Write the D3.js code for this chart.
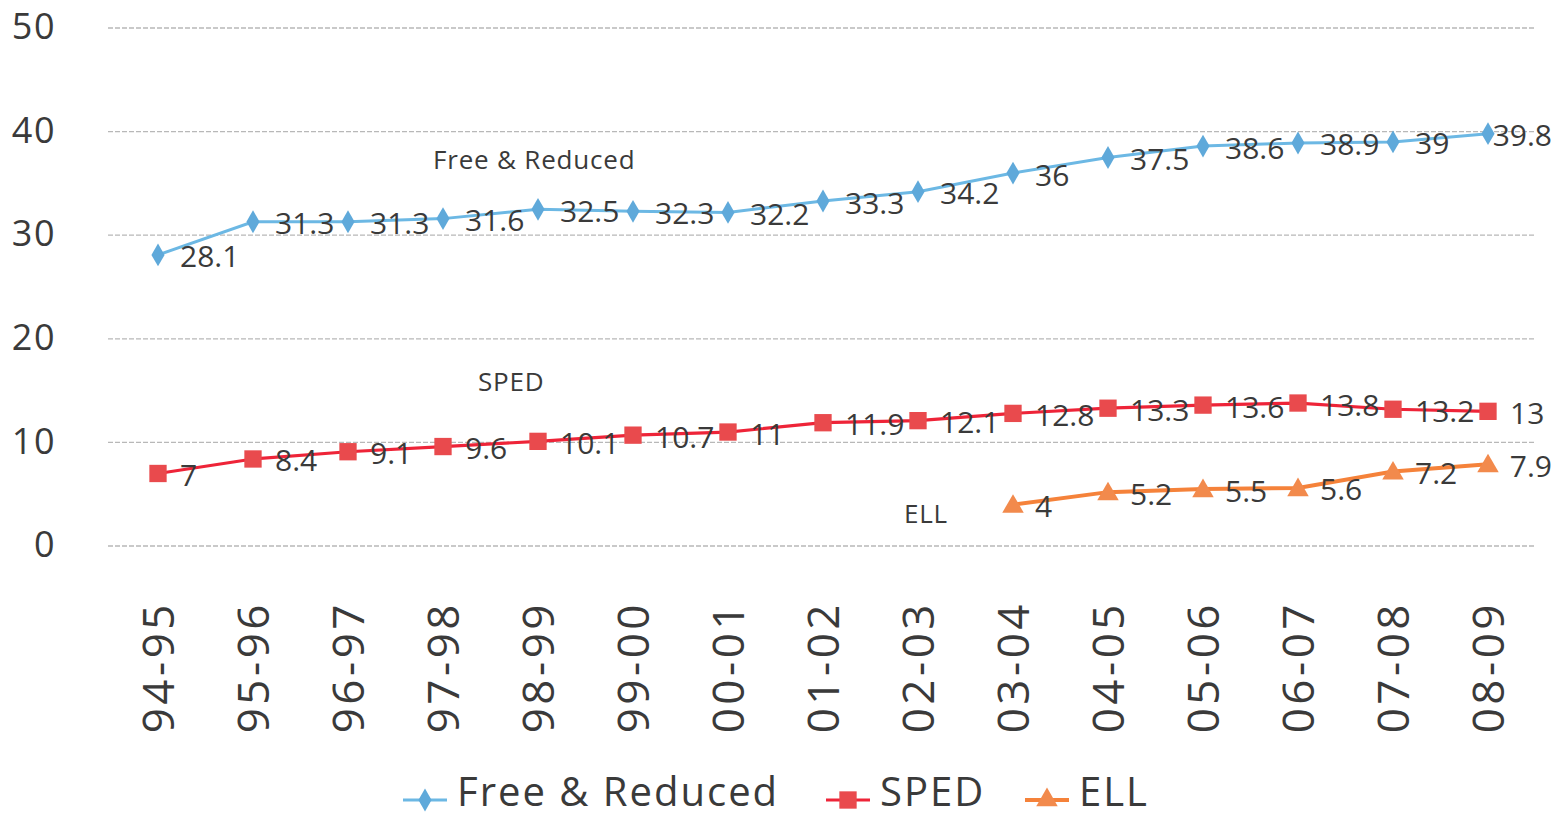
<!DOCTYPE html>
<html><head><meta charset="utf-8">
<script src="https://cdn.jsdelivr.net/npm/d3@7"></script>
<style>html,body{margin:0;padding:0;background:#fff;}svg{display:block;}</style>
</head><body>
<svg id="chart" width="1555" height="819"></svg>
<script>
const categories = ["94-95","95-96","96-97","97-98","98-99","99-00","00-01","01-02","02-03","03-04","04-05","05-06","06-07","07-08","08-09"];
const freeReduced = [28.1,31.3,31.3,31.6,32.5,32.3,32.2,33.3,34.2,36,37.5,38.6,38.9,39,39.8];
const sped = [7,8.4,9.1,9.6,10.1,10.7,11,11.9,12.1,12.8,13.3,13.6,13.8,13.2,13];
const ell = [null,null,null,null,null,null,null,null,null,4,5.2,5.5,5.6,7.2,7.9];
const yTicks = [0,10,20,30,40,50];
const seriesNames = ["Free & Reduced","SPED","ELL"];

const FONT = "'Open Sans', 'Noto Sans', sans-serif";
const TXT = "#3a3a3a";
const svg = d3.select("#chart");

const x = d3.scalePoint().domain(categories).range([158, 1488]);
const y = d3.scaleLinear().domain([0, 50]).range([546, 28]);

// gridlines
svg.append("g").selectAll("line").data(yTicks).join("line")
  .attr("x1", 108).attr("x2", 1535)
  .attr("y1", d => y(d)).attr("y2", d => y(d))
  .attr("stroke", "#b8b8b8").attr("stroke-width", 1.3).attr("stroke-dasharray", "5,2");

// y axis labels
const yAxis = d3.axisLeft(y).tickValues(yTicks).tickSize(0).tickPadding(0);
const gy = svg.append("g").attr("transform", "translate(56,-2)").call(yAxis);
gy.select(".domain").remove();
gy.selectAll("text").attr("font-family", FONT).attr("font-size", 36).attr("fill", TXT)
  .attr("letter-spacing", 1.5).attr("dy", "0.35em");

// x axis labels
const xAxis = d3.axisBottom(x).tickSize(0).tickPadding(0);
const gx = svg.append("g").attr("transform", "translate(0,601)").call(xAxis);
gx.select(".domain").remove();
gx.selectAll("text").attr("font-family", FONT).attr("font-size", 44).attr("fill", TXT)
  .attr("letter-spacing", 3.5)
  .attr("transform", "rotate(-90)").attr("text-anchor", "end")
  .attr("x", 0).attr("y", 0).attr("dy", "0.36em");

const series = [
  {name: seriesNames[0], values: freeReduced, line: "#6cb8e4", mark: "#5fa9da", width: 3, shape: d3.symbolDiamond, size: 150},
  {name: seriesNames[1], values: sped, line: "#ee2438", mark: "#e94a4d", width: 3.2, shape: d3.symbolSquare, size: 300},
  {name: seriesNames[2], values: ell, line: "#f5823a", mark: "#f28a4c", width: 4, shape: d3.symbolTriangle, size: 200}
];

const lineGen = d3.line().defined(d => d.v != null).x(d => x(d.c)).y(d => y(d.v));

series.forEach(s => {
  const pts = categories.map((c, i) => ({c, v: s.values[i]}));
  const g = svg.append("g");
  g.append("path").datum(pts).attr("d", lineGen)
    .attr("fill", "none").attr("stroke", s.line).attr("stroke-width", s.width);
  g.selectAll("path.m").data(pts.filter(d => d.v != null)).join("path").attr("class", "m")
    .attr("d", d3.symbol().type(s.shape).size(s.size))
    .attr("transform", d => `translate(${x(d.c)},${y(d.v) + (s.shape === d3.symbolTriangle ? 2 : 0)})`)
    .attr("fill", s.mark);
  g.selectAll("text").data(pts.filter(d => d.v != null)).join("text")
    .attr("font-family", FONT).attr("font-size", 30).attr("fill", TXT)
    .attr("x", d => x(d.c) + 22).attr("y", d => y(d.v) + 2).attr("dy", "0.35em")
    .text(d => d.v)
    .each(function() {
      const w = this.getComputedTextLength();
      const cx = +this.getAttribute("x");
      if (cx + w > 1552) this.setAttribute("x", 1552 - w);
    });
});

// inline series annotations
const notes = [
  {t: "Free & Reduced", x: 433, y: 160},
  {t: "SPED", x: 478, y: 382},
  {t: "ELL", x: 904, y: 514}
];
svg.append("g").selectAll("text").data(notes).join("text")
  .attr("font-family", FONT).attr("font-size", 26).attr("fill", TXT).attr("letter-spacing", 0.8)
  .attr("x", d => d.x).attr("y", d => d.y).attr("dy", "0.35em").text(d => d.t);

// legend
const legendPos = [403, 826, 1025];
const lg = svg.append("g");
series.forEach((s, i) => {
  const lx = legendPos[i];
  lg.append("line").attr("x1", lx).attr("x2", lx + 44).attr("y1", 800).attr("y2", 800)
    .attr("stroke", s.line).attr("stroke-width", s.width);
  lg.append("path").attr("d", d3.symbol().type(s.shape).size(s.size))
    .attr("transform", `translate(${lx + 22},${800})`).attr("fill", s.mark);
  lg.append("text").attr("font-family", FONT).attr("font-size", 40).attr("fill", TXT)
    .attr("letter-spacing", 2)
    .attr("x", lx + 54).attr("y", 806).text(s.name);
});
</script>
</body></html>
